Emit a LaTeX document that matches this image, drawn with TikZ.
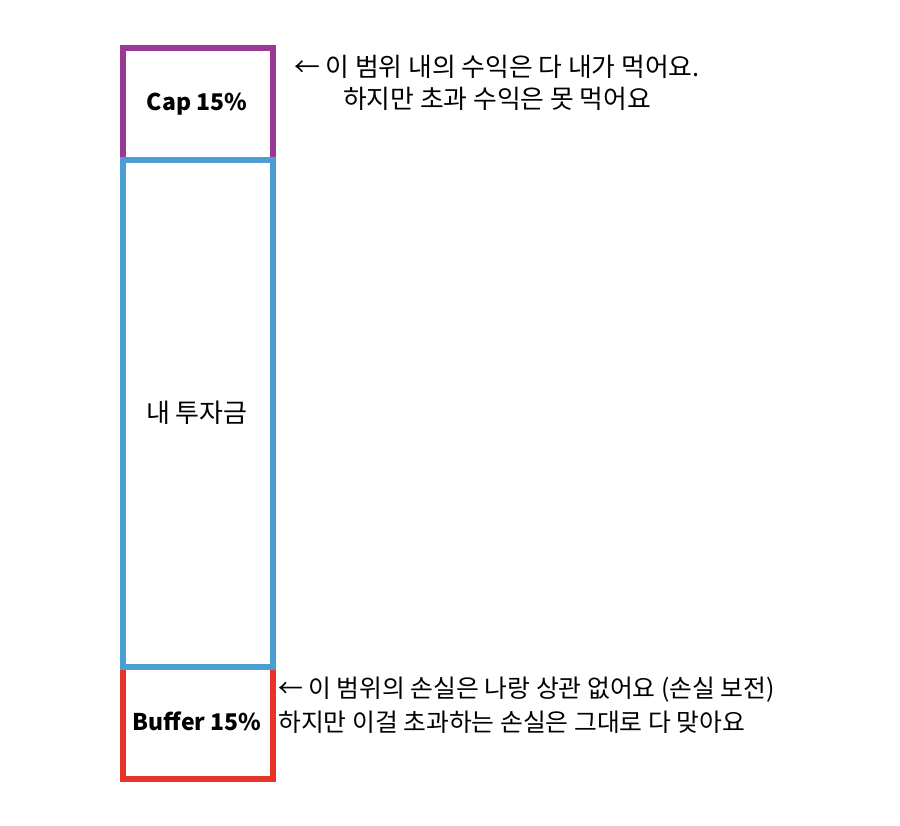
\documentclass[tikz,border=0pt]{standalone}
\usepackage{fontspec}
\setmainfont{Noto Sans CJK KR}
\definecolor{cappurple}{RGB}{153,57,148}
\definecolor{midblue}{RGB}{74,158,212}
\definecolor{bufred}{RGB}{233,51,38}
\tikzset{
  seg/.style={line width=5.5pt},
  boxlabel/.style={inner sep=0pt, font=\fontsize{26}{30}\selectfont},
  boldlabel/.style={inner sep=0pt, font=\fontsize{23}{28}\selectfont\bfseries},
  note/.style={inner sep=0pt},
}
\begin{document}
\begin{tikzpicture}[x=1pt,y=-1pt]
\useasboundingbox (0,0) rectangle (900,826);
\draw[seg, cappurple] (123,48) rectangle (273,160);
\draw[seg, bufred] (123,667) rectangle (273,779);
\draw[seg, midblue] (123,160) rectangle (273,667);
\node[boldlabel] (cap) at (197,104) {Cap 15\%};
\node[boxlabel] (inv) at (197,413) {내 투자금};
\node[boldlabel] (buf) at (197,721) {Buffer 15\%};
\node[note, align=center, font=\fontsize{25.8}{32}\selectfont] (topnote) at (497,83)
  {← 이 범위 내의 수익은 다 내가 먹어요.\\하지만 초과 수익은 못 먹어요};
\node[note, align=left, anchor=west, font=\fontsize{24.8}{34}\selectfont] (botnote) at (278,705)
  {← 이 범위의 손실은 나랑 상관 없어요 (손실 보전)\\하지만 이걸 초과하는 손실은 그대로 다 맞아요};
\end{tikzpicture}
\end{document}
